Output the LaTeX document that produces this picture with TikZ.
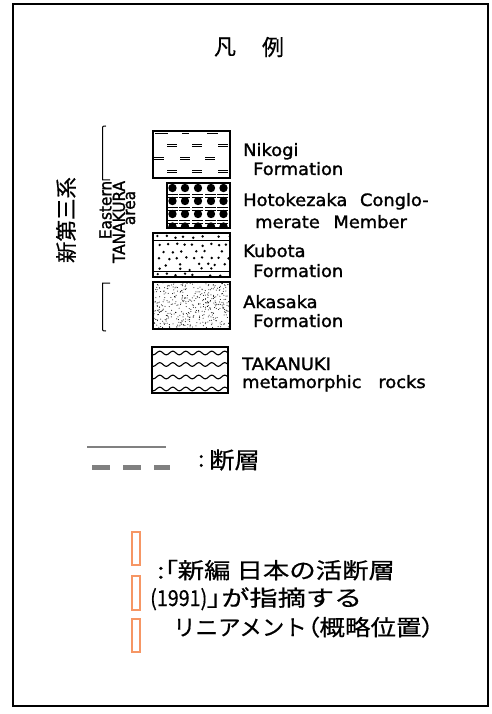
\documentclass[tikz,border=0pt]{standalone}
\usepackage{fontspec}
\usepackage{graphicx}
\setmainfont{DejaVu Sans}
\newfontfamily\enfont{DejaVu Sans}[FakeBold=1.5]
\newfontfamily\jpfont{Noto Sans CJK JP}[FakeBold=0.5]
\newfontfamily\jppfont{Noto Sans CJK JP}[FakeBold=0.5,RawFeature=+palt]
\newcommand\pp[1]{{\jppfont #1}}
\definecolor{legorange}{RGB}{246,150,100}
\definecolor{faultgray}{RGB}{128,128,128}
\newcommand\wide[1]{\scalebox{1.05}[1]{#1}}
\newcommand\narrow[1]{\scalebox{0.93}[1]{#1}}
\tikzset{
  legbox/.style={draw, line width=1.6pt},
  lbl/.style={anchor=base west, inner sep=0pt, font=\enfont\fontsize{17}{17}\selectfont},
  vlbl/.style={rotate=90, inner sep=0pt, font=\enfont\fontsize{16.5}{16.5}\selectfont},
  jptext/.style={inner sep=0pt, font=\jpfont\fontsize{22}{22}\selectfont},
  jpline/.style={jptext, anchor=base west, text height=16pt, text depth=4pt},
  lineabox/.style={draw=legorange, line width=2pt},
  ddash/.style={line width=0.9pt}
}
\newcommand\dd[2]{\draw[ddash] (#1,#2) -- ++(10,0) (#1,#2+2.6) -- ++(10,0);}
\begin{document}
\begin{tikzpicture}[x=1pt,y=-1pt]
\useasboundingbox (0,0) rectangle (491,714);
\fill[white] (0,0) rectangle (491,714);
% outer frame
\draw[line width=2.4pt] (13,4) rectangle (488,706);
% title
\node[jptext] (t1) at (225,47) {凡};
\node[jptext] (t2) at (273,47) {例};

% ---------- Nikogi ----------
\begin{scope}
\clip (153,131) rectangle (230,178);
\foreach \xx in {167,192,218} {\dd{\xx}{144}\dd{\xx}{170}}
\foreach \xx in {154,180,205} {\dd{\xx}{157}}
\foreach \xx/\ww in {155/13,182/7,207/11} {\draw[line width=1.6pt] (\xx,133.5) -- ++(\ww,0);}
\end{scope}
\node[legbox, minimum width=77pt, minimum height=47pt, inner sep=0pt] (nik) at (191.5,154.5) {};

% ---------- Hotokezaka ----------
\begin{scope}
\clip (167,183) rectangle (230,228);
\foreach \yy in {194.5,207.5,220.5} {
  \foreach \xx in {167,179,192,205,217} {\draw[line width=0.8pt] (\xx,\yy) -- ++(11,0) (\xx,\yy+2.4) -- ++(11,0);}
}
\foreach \yy in {188,201,214,226.5} {
  \foreach \xx in {172.5,185,198,211,223.5} {\fill (\xx,\yy) circle (4.2);}
}
\end{scope}
\node[legbox, minimum width=63pt, minimum height=45pt, inner sep=0pt] (hot) at (198.5,205.5) {};

% ---------- Kubota ----------
\begin{scope}
\clip (153,233) rectangle (230,277);
\pgfmathsetseed{21}
\foreach \yy/\xo/\st in {236.8/157/9, 245/159/8.5, 251.5/155/8.5, 258/160/8.5, 264.5/156/8.5, 269/161/10, 274.5/157/9} {
  \foreach \k in {0,...,8} {
    \pgfmathsetmacro\rx{\xo+\k*\st+3*rnd-1.5}
    \pgfmathsetmacro\ry{\yy+2.4*rnd-1.2}
    \pgfmathsetmacro\keep{rnd}
    \ifdim\keep pt>0.22pt \fill (\rx,\ry) circle (1.35);\fi
  }
}
\end{scope}
\node[legbox, minimum width=77pt, minimum height=44pt, inner sep=0pt] (kub) at (191.5,255) {};
\draw[line width=1pt] (kub.west |- 0,240.5) -- (kub.east |- 0,240.5);
\draw[line width=1pt] (kub.west |- 0,271.5) -- (kub.east |- 0,271.5);

% ---------- Akasaka ----------
\begin{scope}
\clip (153,282) rectangle (230,329);
\pgfmathsetseed{5}
\foreach \i in {1,...,420} {
  \pgfmathsetmacro\rx{153+77*rnd}
  \pgfmathsetmacro\ry{282+47*rnd}
  \fill (\rx,\ry) circle (0.5);
}
\end{scope}
\node[legbox, minimum width=77pt, minimum height=47pt, inner sep=0pt] (aka) at (191.5,305.5) {};

% ---------- Takanuki ----------
\begin{scope}
\clip (152,347) rectangle (228,393);
\foreach \yy in {353,364.5,377,389} {
  \draw[line width=1.1pt] plot[domain=0:80, samples=90, smooth] ({150+\x}, {\yy+1.8*sin(\x*27.69)});
}
\end{scope}
\node[legbox, minimum width=76pt, minimum height=46pt, inner sep=0pt] (tak) at (190,370) {};

% ---------- labels ----------
\node[lbl] (l1a) at (243,156) {\wide{Nikogi}};
\node[lbl] (l1b) at (253,175) {\wide{Formation}};
\node[lbl] (l2a) at (243,206) {\wide{Hotokezaka\hspace{12pt}Conglo-}};
\node[lbl] (l2b) at (255,228) {\wide{merate\hspace{13pt}Member}};
\node[lbl] (l3a) at (243,257) {\wide{Kubota}};
\node[lbl] (l3b) at (253,277) {\wide{Formation}};
\node[lbl] (l4a) at (243,308) {\wide{Akasaka}};
\node[lbl] (l4b) at (253,327) {\wide{Formation}};
\node[lbl] (l5a) at (242,370) {\wide{TAKANUKI}};
\node[lbl] (l5b) at (242,388) {\wide{metamorphic\hspace{16pt}rocks}};

% ---------- bracket ----------
\coordinate (bt) at (106,126);
\coordinate (bb) at (106,331);
\draw[line width=1pt] (bt) .. controls (102.5,126) .. (102.5,130) -- (102.5,180) -- (110,180);
\draw[line width=1pt] (110,283) -- (102.5,283) -- (102.5,327) .. controls (102.5,331) .. (bb);
\node[vlbl] (e1) at (105.5,210) {\narrow{Eastern}};
\node[vlbl] (e2) at (119,222) {\narrow{TANAKURA}};
\node[vlbl] (e3) at (130.5,208) {\narrow{area}};
\node[jptext, rotate=90, font=\jpfont\fontsize{21.5}{21.5}\selectfont] (shin) at (66,220) {新第三系};

% ---------- fault ----------
\coordinate (fa1) at (87,447);
\coordinate (fa2) at (166,447);
\draw[faultgray, line width=1.2pt] (fa1) -- (fa2);
\coordinate (fb1) at (92,467);
\coordinate (fb2) at (170,467);
\draw[faultgray, line width=5pt, dash pattern=on 18pt off 13pt] (fb1) -- (fb2);
\node[jptext, anchor=west] (fc) at (198,461) {:};
\node[jptext, font=\jpfont\fontsize{23}{23}\selectfont, anchor=west] (fd) at (209,460) {\scalebox{1.1}[1]{断層}};

% ---------- lineaments ----------
\node[lineabox, minimum width=8pt, minimum height=33pt, inner sep=0pt] (r1) at (136,548.5) {};
\node[lineabox, minimum width=8pt, minimum height=34pt, inner sep=0pt] (r2) at (136,592.5) {};
\node[lineabox, minimum width=8pt, minimum height=33pt, inner sep=0pt] (r3) at (136,635) {};

\node[jpline] (j1) at (157,578.5) {\scalebox{1.2}[1]{\pp{:「}新編\hspace{5pt}日本の活断層}};
\node[jpline] (j2) at (150,606) {\scalebox{1.28}[1]{\scalebox{0.7}[1]{(1991)}\pp{」}が指摘する}};
\node[jpline] (j3) at (173,635.5) {\scalebox{1.02}[1]{リニアメント}\scalebox{1.16}[1]{\pp{（}概略位置\pp{）}}};
\end{tikzpicture}
\end{document}
